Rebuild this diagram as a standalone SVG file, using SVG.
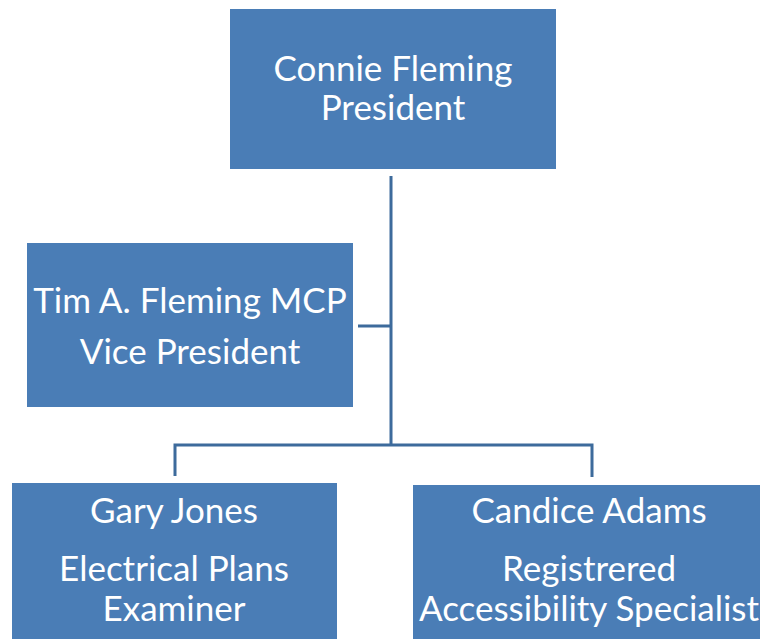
<svg xmlns="http://www.w3.org/2000/svg" width="760" height="639" viewBox="0 0 760 639">
<style>
.box{fill:#4a7db6;}
.t{font-family:Lato,"Open Sans",sans-serif;font-size:35px;fill:#ffffff;text-anchor:middle;}
.c{stroke:#3d6b9c;stroke-width:3;fill:none;}
</style>
<rect width="760" height="639" fill="#ffffff"/>
<g id="connectors">
<line class="c" x1="391" y1="176" x2="391" y2="445"/>
<line class="c" x1="358" y1="326" x2="391" y2="326"/>
<polyline class="c" points="175,476 175,445 592,445 592,477"/>
</g>
<g id="president">
<rect class="box" x="230" y="9" width="326" height="160"/>
<text class="t" x="393" y="81">Connie Fleming</text>
<text class="t" x="393" y="120">President</text>
</g>
<g id="vice-president">
<rect class="box" x="27" y="243" width="326" height="164"/>
<text class="t" x="190" y="313">Tim A. Fleming MCP</text>
<text class="t" x="190" y="364">Vice President</text>
</g>
<g id="gary-jones">
<rect class="box" x="12" y="483" width="325" height="156"/>
<text class="t" x="174" y="523">Gary Jones</text>
<text class="t" x="174" y="581">Electrical Plans</text>
<text class="t" x="174" y="621">Examiner</text>
</g>
<g id="candice-adams">
<rect class="box" x="413" y="485" width="347" height="154"/>
<text class="t" x="589" y="523">Candice Adams</text>
<text class="t" x="589" y="581">Registrered</text>
<text class="t" x="589" y="621">Accessibility Specialist</text>
</g>
</svg>
